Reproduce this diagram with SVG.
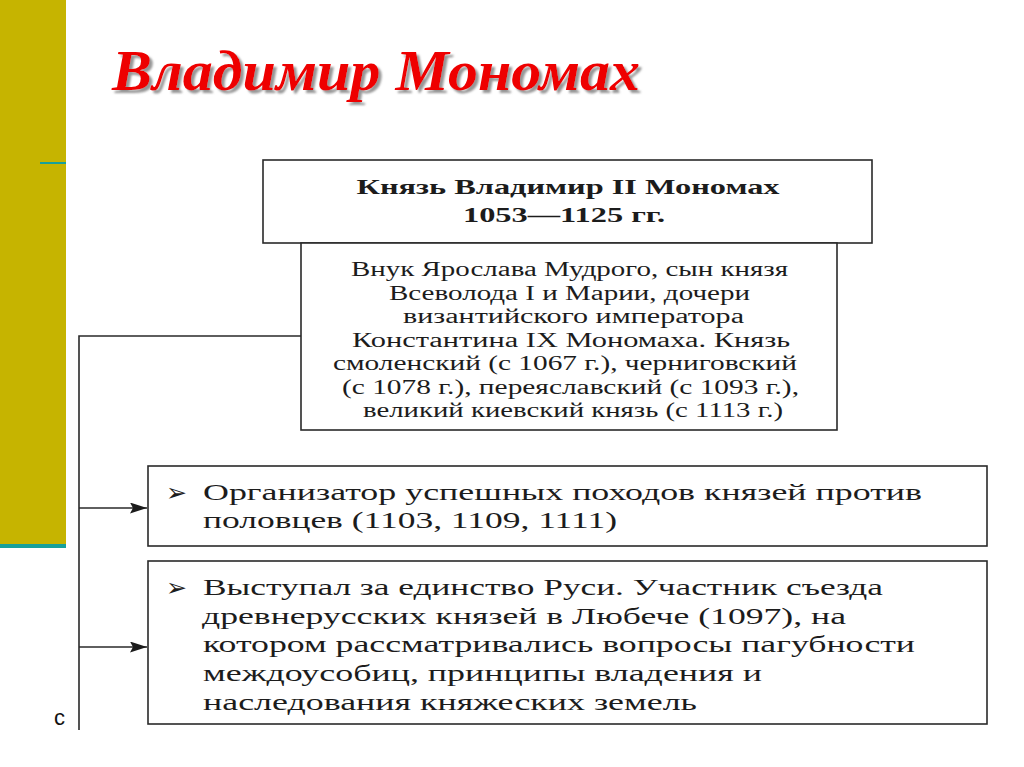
<svg xmlns="http://www.w3.org/2000/svg" width="1024" height="767" viewBox="0 0 1024 767">
  <defs>
    <style>
      .box { fill: #ffffff; stroke: #2a2a2a; stroke-width: 1.6; }
      .wire { fill: none; stroke: #2a2a2a; stroke-width: 1.6; }
      .t { font-family: "Liberation Serif", "Times New Roman", serif; fill: #1c1c1c; }
      .hd { font-size: 21px; font-weight: bold; text-anchor: middle; }
      .bd { font-size: 20px; text-anchor: middle; }
      .big { font-size: 23px; }
      .bul { font-family: "DejaVu Sans", sans-serif; font-size: 25px; fill: #1c1c1c; }
      .title { font-family: "Liberation Serif", "Times New Roman", serif; font-size: 57px; font-weight: bold; font-style: italic; fill: #ee0000; }
    </style>
    <filter id="shadow" x="-5%" y="-20%" width="110%" height="140%">
      <feDropShadow dx="3" dy="3" stdDeviation="0.8" flood-color="#8a8a8a" flood-opacity="0.9"/>
    </filter>
    <marker id="arr" viewBox="0 0 17 11" refX="17" refY="5.5" markerWidth="17" markerHeight="11" markerUnits="userSpaceOnUse" orient="auto">
      <path d="M0,0 L17,5.5 L0,11 L3,5.5 Z" fill="#1c1c1c"/>
    </marker>
  </defs>

  <rect x="0" y="0" width="1024" height="767" fill="#ffffff"/>

  <!-- side decoration -->
  <g id="sidebar">
    <rect x="0" y="0" width="66" height="545" fill="#c6b400"/>
    <rect x="0" y="544" width="66" height="4" fill="#17a09a"/>
    <rect x="40" y="162" width="26" height="2" fill="#17a09a"/>
  </g>

  <!-- title -->
  <g id="title">
    <text class="title" x="112" y="90" filter="url(#shadow)" textLength="528" lengthAdjust="spacingAndGlyphs">Владимир Мономах</text>
  </g>

  <!-- connectors -->
  <g id="connectors">
    <path class="wire" d="M301,336 H79 V730"/>
    <line class="wire" x1="79" y1="508" x2="147" y2="508" marker-end="url(#arr)"/>
    <line class="wire" x1="79" y1="647" x2="147" y2="647" marker-end="url(#arr)"/>
  </g>

  <g id="node-prince">
    <rect class="box" x="263" y="160" width="609" height="83"/>
    <text class="t hd" x="568" y="194" textLength="423" lengthAdjust="spacingAndGlyphs">Князь Владимир II Мономах</text>
    <text class="t hd" x="564" y="222" textLength="202" lengthAdjust="spacingAndGlyphs">1053—1125 гг.</text>
  </g>

  <g id="node-bio">
    <rect class="box" x="301" y="243" width="536" height="187"/>
    <text class="t bd" x="569.5" y="276" textLength="437" lengthAdjust="spacingAndGlyphs">Внук Ярослава Мудрого, сын князя</text>
    <text class="t bd" x="569.5" y="299.5" textLength="361" lengthAdjust="spacingAndGlyphs">Всеволода I и Марии, дочери</text>
    <text class="t bd" x="573.5" y="323" textLength="341" lengthAdjust="spacingAndGlyphs">византийского императора</text>
    <text class="t bd" x="571" y="346.5" textLength="438" lengthAdjust="spacingAndGlyphs">Константина IX Мономаха. Князь</text>
    <text class="t bd" x="565" y="370" textLength="464" lengthAdjust="spacingAndGlyphs">смоленский (с 1067 г.), черниговский</text>
    <text class="t bd" x="570.5" y="393.5" textLength="457" lengthAdjust="spacingAndGlyphs">(с 1078 г.), переяславский (с 1093 г.),</text>
    <text class="t bd" x="573" y="417" textLength="420" lengthAdjust="spacingAndGlyphs">великий киевский князь (с 1113 г.)</text>
  </g>

  <g id="node-campaigns">
    <rect class="box" x="148" y="466" width="839" height="80"/>
    <text class="bul" x="166" y="501">➢</text>
    <text class="t big" x="203" y="500" textLength="719" lengthAdjust="spacingAndGlyphs">Организатор успешных походов князей против</text>
    <text class="t big" x="203" y="528" textLength="414" lengthAdjust="spacingAndGlyphs">половцев (1103, 1109, 1111)</text>
  </g>

  <g id="node-unity">
    <rect class="box" x="148" y="561" width="839" height="163"/>
    <text class="bul" x="166" y="596">➢</text>
    <text class="t big" x="203" y="595" textLength="680" lengthAdjust="spacingAndGlyphs">Выступал за единство Руси. Участник съезда</text>
    <text class="t big" x="202" y="624" textLength="644" lengthAdjust="spacingAndGlyphs">древнерусских князей в Любече (1097), на</text>
    <text class="t big" x="203" y="652" textLength="712" lengthAdjust="spacingAndGlyphs">котором рассматривались вопросы пагубности</text>
    <text class="t big" x="203" y="681" textLength="559" lengthAdjust="spacingAndGlyphs">междоусобиц, принципы владения и</text>
    <text class="t big" x="203" y="710" textLength="494" lengthAdjust="spacingAndGlyphs">наследования княжеских земель</text>
  </g>

  <g id="footer-mark">
    <text x="54" y="725" font-family="Liberation Sans, Arial, sans-serif" font-size="22" fill="#111">c</text>
  </g>
</svg>
